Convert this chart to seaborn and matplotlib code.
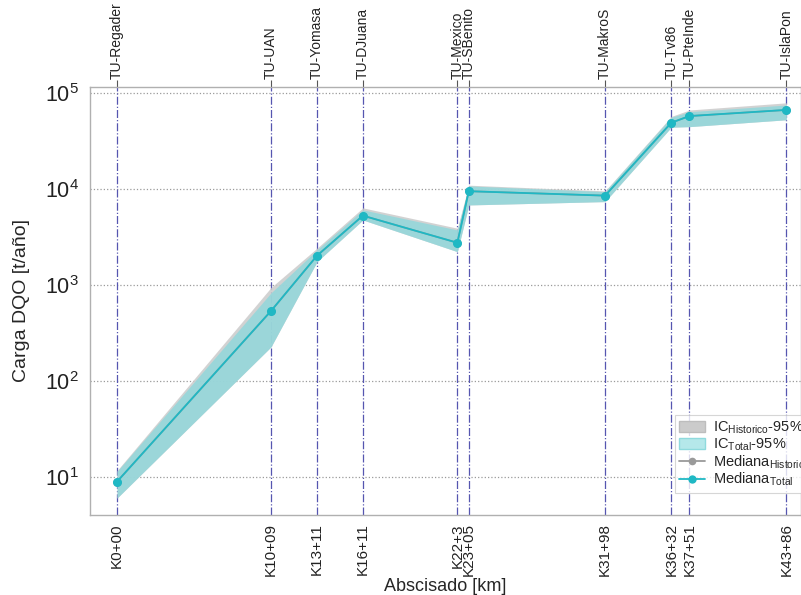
import numpy as np
import pandas as pd
import matplotlib
matplotlib.use("Agg")
import matplotlib.pyplot as plt
import seaborn as sns
from matplotlib.patches import Patch
from matplotlib.lines import Line2D
from matplotlib.ticker import LogLocator, NullFormatter, LogFormatterMathtext

# Stations along the river (km from origin)
abscisa_km = [0.0, 10.09, 13.11, 16.11, 22.30, 23.05, 31.98, 36.32, 37.51, 43.86]
abscisa_lbl = ["K0+00", "K10+09", "K13+11", "K16+11", "K22+3", "K23+05",
               "K31+98", "K36+32", "K37+51", "K43+86"]
estaciones = ["TU-Regader", "TU-UAN", "TU-Yomasa", "TU-DJuana", "TU-Mexico",
              "TU-SBenito", "TU-MakroS", "TU-Tv86", "TU-PteInde", "TU-IslaPon"]

# Median COD load [t/año]
mediana_total = [8.9, 535, 2020, 5270, 2750, 9470, 8520, 49000, 57500, 66600]
mediana_hist = [8.9, 535, 2020, 5270, 2750, 9470, 8520, 49000, 57500, 66600]

# 95% confidence bands
ic_total_lo = [6.0, 226, 1750, 4750, 2220, 6810, 7380, 44000, 44600, 52600]
ic_total_hi = [11.4, 826, 2320, 6050, 3740, 10750, 9380, 55900, 63800, 75000]
ic_hist_lo = [6.0, 226, 1750, 4750, 2220, 6810, 7380, 44000, 44600, 52600]
ic_hist_hi = [11.6, 940, 2420, 6350, 3900, 10950, 9550, 57000, 66500, 79000]

df = pd.DataFrame({"km": abscisa_km,
                   "total": mediana_total,
                   "hist": mediana_hist})

sns.set_style("white")
plt.rcParams["font.family"] = ["Liberation Sans", "DejaVu Sans"]
plt.rcParams["mathtext.fontset"] = "custom"
plt.rcParams["mathtext.rm"] = "Liberation Sans"
plt.rcParams["mathtext.it"] = "Liberation Sans:italic"

c_total = "#1fb8c4"
c_band = "#8ed8dc"
c_gray = "#9a9a9a"
c_gband = "#cbcbcb"
c_vline = "#5656b0"

fig = plt.figure(figsize=(8.01, 5.95), dpi=100)
ax = fig.add_axes([0.1124, 0.1345, 0.8876, 0.7193])

# Confidence bands
ax.fill_between(abscisa_km, ic_hist_lo, ic_hist_hi, color=c_gband,
                alpha=0.85, lw=0, zorder=2)
ax.fill_between(abscisa_km, ic_total_lo, ic_total_hi, color=c_band,
                alpha=0.8, lw=0, zorder=3)

# Median lines
sns.lineplot(data=df, x="km", y="hist", ax=ax, color=c_gray, marker="o",
             markersize=6, markeredgewidth=0, lw=1.2, zorder=4)
sns.lineplot(data=df, x="km", y="total", ax=ax, color=c_total, marker="o",
             markersize=6.5, markeredgewidth=0, lw=1.3, zorder=5)

# Station markers
for k in abscisa_km:
    ax.axvline(k, color=c_vline, ls="-.", lw=0.9, zorder=1)

ax.set_yscale("log")
ax.set_ylim(4.0, 1.155e5)
ax.set_xlim(-1.77, 44.82)

ax.yaxis.set_major_locator(LogLocator(base=10, numticks=10))
ax.yaxis.set_minor_locator(LogLocator(base=10, subs=np.arange(2, 10), numticks=10))
ax.yaxis.set_major_formatter(LogFormatterMathtext())
ax.yaxis.set_minor_formatter(NullFormatter())
ax.yaxis.grid(True, which="major", color="#9a9a9a", ls=":", lw=0.9)
ax.xaxis.grid(False)

ax.set_xticks(abscisa_km)
ax.set_xticklabels(abscisa_lbl, rotation=90, fontsize=11)
ax.tick_params(axis="y", which="major", direction="in", length=11, width=1.2,
               labelsize=15.5, colors="#222222", pad=8)
ax.tick_params(axis="y", which="minor", direction="in", length=5, width=0.9,
               colors="#333333")
ax.tick_params(axis="x", which="major", direction="in", length=5, width=0.8,
               colors="#555555", labelcolor="#222222", pad=6)

for s in ax.spines.values():
    s.set_color("#b0b0b0")
    s.set_linewidth(1.0)

ax.set_xlabel("Abscisado [km]", fontsize=13, labelpad=1)
ax.set_ylabel("Carga DQO [t/año]", fontsize=14, labelpad=11)

# Station names on top axis
top = ax.secondary_xaxis("top")
top.set_xticks(abscisa_km)
top.set_xticklabels(estaciones, rotation=90, fontsize=10)
top.tick_params(direction="out", length=5, width=0.8, colors="#555555",
                labelcolor="#222222", pad=1)
top.spines["top"].set_visible(False)

handles = [
    Patch(facecolor=c_gband, edgecolor="#bdbdbd", label=r"IC$_{\mathrm{Historico}}$-95%"),
    Patch(facecolor="#b5e8ea", edgecolor="#8fdadd", label=r"IC$_{\mathrm{Total}}$-95%"),
    Line2D([0], [0], color=c_gray, marker="o", markersize=5.5, markeredgewidth=0,
           lw=1.3, label=r"Mediana$_{\mathrm{Historico}}$"),
    Line2D([0], [0], color=c_total, marker="o", markersize=6, markeredgewidth=0,
           lw=1.3, label=r"Mediana$_{\mathrm{Total}}$"),
]
leg = ax.legend(handles=handles, loc="lower left", bbox_to_anchor=(0.812, 0.035),
                fontsize=10.5, frameon=True, handlelength=1.8, handletextpad=0.5,
                labelspacing=0.02, borderpad=0.3, fancybox=False,
                handleheight=0.8)
leg.get_frame().set_edgecolor("#cccccc")
leg.get_frame().set_linewidth(0.8)

fig.savefig("out.png", dpi=100)
